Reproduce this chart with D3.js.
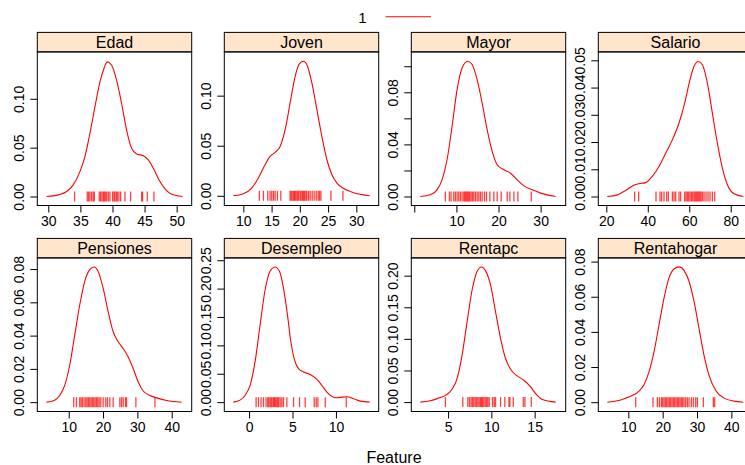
<!DOCTYPE html>
<html><head><meta charset="utf-8">
<script src="https://cdn.jsdelivr.net/npm/d3@7"></script>
<style>body{margin:0;background:#fff}svg{display:block}text{font-family:"Liberation Sans",Arial,sans-serif;fill:#000}</style>
</head><body>
<script>
// ---------- data ----------
const features = ["Edad","Joven","Mayor","Salario","Pensiones","Desempleo","Rentapc","Rentahogar"];
const legendLabels = ["1"];
const axisTitle = "Feature";

const edadX = [29.74,31.56,32.86,33.89,34.93,35.71,36.49,37.27,38.05,38.67,39.19,39.87,40.64,41.42,42.2,42.98,43.76,44.8,45.58,46.36,47.39,48.43,49.47,50.92];
const edadY = [0,0.0017,0.0051,0.0119,0.0255,0.0408,0.0646,0.0918,0.1173,0.131,0.1378,0.1344,0.119,0.0952,0.068,0.0493,0.0435,0.0418,0.0374,0.0289,0.0153,0.0061,0.0017,0];
const edadRug = [34.1,36.07,36.28,36.49,36.75,37.0,37.17,37.94,38.15,38.36,38.57,38.72,38.88,39.09,39.35,39.6,40.02,40.23,40.38,40.59,40.75,41.0,41.27,41.94,42.82,44.54,44.69,45.42,46.46];

const jovenX = [8.22,10.0,11.48,12.66,13.55,14.73,15.62,16.51,17.4,18.28,19.17,19.94,20.65,21.36,22.13,23.02,23.9,24.79,25.68,26.57,27.75,28.93,30.41,32.37];
const jovenY = [0,0.002,0.0077,0.0177,0.0277,0.0393,0.0433,0.0493,0.066,0.0927,0.1193,0.132,0.1343,0.1293,0.1127,0.086,0.0593,0.036,0.021,0.0127,0.0073,0.0043,0.0017,0];
const jovenRug = [12.84,13.55,14.32,14.73,15.03,15.33,15.62,16.04,16.63,18.28,18.46,18.64,18.88,19.05,19.23,19.47,19.64,19.82,20.06,20.24,20.47,20.65,20.83,21.07,21.24,21.54,21.83,22.19,22.54,22.9,23.25,23.49,23.73,25.5,27.63];

const mayorX = [1.43,3.81,5.4,6.59,7.78,8.97,10.16,11.35,12.7,13.73,14.92,16.11,17.3,18.49,19.68,21.27,22.86,24.44,26.03,28.02,30.0,33.57];
const mayorY = [0,0.0013,0.0051,0.0128,0.0282,0.0538,0.082,0.0987,0.1038,0.1013,0.0897,0.0718,0.0513,0.0346,0.0244,0.0205,0.0179,0.0128,0.0082,0.0051,0.0026,0];
const mayorRug = [7.38,8.33,8.73,9.37,9.76,10.16,10.56,10.95,11.35,11.75,11.98,12.22,12.46,12.7,12.94,13.17,13.49,13.81,14.13,14.52,14.92,15.32,15.71,16.11,16.67,17.14,17.94,18.89,19.68,20.63,22.06,22.7,23.65,24.6,27.78];

const salarioX = [20.48,25.3,29.33,32.55,35.76,38.98,42.2,45.41,48.63,51.85,55.06,57.8,60.37,62.3,64.39,66.32,68.74,71.15,73.56,75.98,78.39,81.6,86.11];
const salarioY = [0,0.0006,0.0022,0.0039,0.0047,0.0051,0.0074,0.011,0.0159,0.0208,0.027,0.0343,0.0429,0.0478,0.0496,0.0484,0.0417,0.0306,0.0196,0.0104,0.0043,0.001,0];
const salarioRug = [33.67,35.6,43.97,45.9,46.7,47.83,49.11,49.92,51.85,52.65,53.46,55.07,55.87,57.8,58.44,59.09,59.73,60.37,61.02,61.66,62.3,62.79,63.27,63.75,64.23,64.72,65.2,65.68,66.32,67.13,68.1,69.06,70.02,71.15,72.28];

const pensionesX = [3.48,5.91,7.37,8.83,10.29,11.75,13.21,14.67,16.13,17.4,18.57,20.03,21.49,22.95,24.41,25.87,27.33,28.79,30.25,31.71,33.66,35.61,38.53,42.91];
const pensionesY = [0,0.0012,0.004,0.0101,0.0222,0.0403,0.0584,0.0726,0.0796,0.0812,0.0786,0.0685,0.0544,0.0423,0.0363,0.0322,0.0272,0.0202,0.0121,0.0067,0.004,0.0026,0.001,0];
const pensionesRug = [11.46,12.24,13.21,13.6,13.99,14.48,14.97,15.36,15.74,16.13,16.52,16.91,17.3,17.69,18.08,18.47,18.86,19.35,20.03,20.81,21.3,21.98,22.95,24.9,25.38,25.87,26.55,26.85,29.57,35.12];

const desempleoX = [-1.81,-1.04,-0.46,0.12,0.69,1.27,1.85,2.42,3.0,3.5,3.96,4.42,4.81,5.19,5.69,6.27,7.04,7.81,8.38,8.96,9.54,10.12,10.69,11.27,12.04,12.81,13.88];
const desempleoY = [0,0.0035,0.0118,0.0296,0.0709,0.1359,0.198,0.2305,0.2382,0.2305,0.2009,0.1537,0.1064,0.0768,0.0591,0.0532,0.0485,0.0402,0.0296,0.0177,0.01,0.0077,0.0089,0.0095,0.0059,0.0018,0];
const desempleoRug = [0.81,1.08,1.38,1.65,1.96,2.15,2.27,2.42,2.54,2.65,2.81,2.92,3.04,3.19,3.31,3.42,3.58,3.77,3.96,4.35,5.12,5.81,6.46,7.5,7.73,7.92,8.77,11.19];

const rentapcX = [1.8,2.95,3.92,4.69,5.46,6.04,6.62,7.2,7.78,8.36,8.86,9.32,9.9,10.48,11.06,11.64,12.22,12.99,13.76,14.54,15.12,15.89,17.43];
const rentapcY = [0,0.0021,0.0064,0.0106,0.0202,0.0371,0.0743,0.1273,0.1777,0.2069,0.2138,0.208,0.1857,0.1432,0.1008,0.069,0.052,0.0414,0.0345,0.0239,0.0133,0.0042,0];
const rentapcRug = [4.69,6.7,7.28,7.47,7.66,7.82,7.97,8.13,8.28,8.44,8.59,8.75,8.86,8.98,9.13,9.29,9.44,9.59,9.75,10.14,10.33,10.48,11.06,11.56,12.03,12.14,12.53,13.69,13.88,14.61];

const rentahogarX = [3.88,6.8,9.22,11.17,13.11,14.56,16.02,17.48,18.93,20.39,21.84,23.3,24.76,26.21,27.67,29.13,30.58,32.04,33.5,35.44,37.86,40.78,43.5];
const rentahogarY = [0,0.0008,0.0023,0.0038,0.0063,0.0099,0.0172,0.0286,0.0439,0.0592,0.0707,0.0758,0.077,0.075,0.0688,0.0573,0.042,0.0267,0.0153,0.0067,0.0023,0.0006,0];
const rentahogarRug = [12.14,17.18,18.45,19.03,19.61,20.0,20.39,20.78,21.17,21.55,21.94,22.33,22.72,23.11,23.5,23.88,24.27,24.66,25.05,25.44,25.83,26.21,26.7,27.18,27.67,28.35,28.93,29.61,30.1,31.84,34.76,35.15];

// axis limits per panel
const xLimits = [[28.29,52.34],[6.63,33.96],[-0.71,35.95],[16.14,90.6],[0.85,45.83],[-2.85,14.92],[0.75,18.59],[1.26,46.21]];
const yLimits = [[-0.0092,0.148],[-0.0097,0.1437],[-0.0069,0.111],[-0.0033,0.0531],[-0.0056,0.0867],[-0.0165,0.2541],[-0.0149,0.2281],[-0.0053,0.0821]];

// ticks and tick labels
const xTicks = [[30,35,40,45,50],[10,15,20,25,30],[0,10,20,30],[20,40,60,80],[10,20,30,40],[0,5,10],[5,10,15],[10,20,30,40]];
const xTickLabels = [["30","35","40","45","50"],["10","15","20","25","30"],["","10","20","30"],["20","40","60","80"],["10","20","30","40"],["0","5","10"],["5","10","15"],["10","20","30","40"]];
const yTicks = [[0,0.05,0.10],[0,0.05,0.10],[0,0.02,0.04,0.06,0.08,0.10],[0,0.01,0.02,0.03,0.04,0.05],[0,0.02,0.04,0.06,0.08],[0,0.05,0.10,0.15,0.20,0.25],[0,0.05,0.10,0.15,0.20],[0,0.02,0.04,0.06,0.08]];
const yTickLabels = [["0.00","0.05","0.10"],["0.00","0.05","0.10"],["0.00","","0.04","","0.08",""],["0.00","0.01","0.02","0.03","0.04","0.05"],["0.00","0.02","0.04","0.06","0.08"],["0.00","0.05","0.10","0.15","0.20","0.25"],["0.00","0.05","0.10","0.15","0.20"],["0.00","0.02","0.04","0.06","0.08"]];

const curvesX = [edadX,jovenX,mayorX,salarioX,pensionesX,desempleoX,rentapcX,rentahogarX];
const curvesY = [edadY,jovenY,mayorY,salarioY,pensionesY,desempleoY,rentapcY,rentahogarY];
const rugs = [edadRug,jovenRug,mayorRug,salarioRug,pensionesRug,desempleoRug,rentapcRug,rentahogarRug];

// ---------- layout ----------
const W = 745, H = 465;
const colLeft0 = 37.3, colStep = 187, panelW = 154.4;
const rowTops = [32.4, 238.4], stripH = 19.5, plotH = 153.6;
const red = "#ff0000";
const tickFont = "14px", bigFont = "16px";

const svg = d3.select("body").append("svg").attr("width", W).attr("height", H);

features.forEach((name, i) => {
  const col = i % 4, row = Math.floor(i / 4);
  const left = colLeft0 + col * colStep;
  const top = rowTops[row];
  const pTop = top + stripH, pBot = pTop + plotH;
  const x = d3.scaleLinear().domain(xLimits[i]).range([left, left + panelW]);
  const y = d3.scaleLinear().domain(yLimits[i]).range([pBot, pTop]);
  const g = svg.append("g");

  // strip
  g.append("rect").attr("x", left).attr("y", top).attr("width", panelW).attr("height", stripH)
    .attr("fill", "#ffe5cc").attr("stroke", "#000").attr("stroke-width", 1);
  g.append("text").attr("x", left + panelW / 2).attr("y", top + stripH / 2 + 0.5)
    .attr("text-anchor", "middle").attr("dominant-baseline", "central")
    .style("font-size", bigFont).text(name);

  // clip for plotting region
  const cid = "clip" + i;
  svg.append("clipPath").attr("id", cid).append("rect")
    .attr("x", left).attr("y", pTop).attr("width", panelW).attr("height", plotH);

  // density curve
  const pts = curvesX[i].map((v, k) => [v, curvesY[i][k]]);
  g.append("path").datum(pts).attr("clip-path", `url(#${cid})`)
    .attr("fill", "none").attr("stroke", red).attr("stroke-width", 1.1)
    .attr("d", d3.line().x(d => x(d[0])).y(d => y(d[1])).curve(d3.curveMonotoneX));

  // rug marks
  g.append("g").selectAll("line").data(rugs[i]).join("line")
    .attr("x1", d => x(d)).attr("x2", d => x(d))
    .attr("y1", y(0) - 5).attr("y2", y(0) + 5)
    .attr("stroke", red).attr("stroke-opacity", 0.75).attr("stroke-width", 1.3);

  // panel border
  g.append("rect").attr("x", left).attr("y", pTop).attr("width", panelW).attr("height", plotH)
    .attr("fill", "none").attr("stroke", "#000").attr("stroke-width", 1);

  // x axis
  const xa = d3.axisBottom(x).tickValues(xTicks[i]).tickSize(7).tickPadding(4)
    .tickFormat((d, k) => xTickLabels[i][k]);
  const gx = g.append("g").attr("transform", `translate(0,${pBot})`).call(xa);
  gx.select(".domain").remove();
  gx.selectAll("line").attr("stroke", "#000");
  gx.selectAll("text").style("font-size", tickFont).style("font-family", "Liberation Sans, Arial, sans-serif")
    .attr("fill", "#000");

  // y axis
  const ya = d3.axisLeft(y).tickValues(yTicks[i]).tickSize(7).tickPadding(4)
    .tickFormat((d, k) => yTickLabels[i][k]);
  const gy = g.append("g").attr("transform", `translate(${left},0)`).call(ya);
  gy.select(".domain").remove();
  gy.selectAll("line").attr("stroke", "#000");
  gy.selectAll("text").style("font-size", tickFont).style("font-family", "Liberation Sans, Arial, sans-serif")
    .attr("fill", "#000")
    .attr("x", null).attr("dy", null)
    .attr("text-anchor", "middle").attr("dominant-baseline", "central")
    .attr("transform", "translate(-18.5,0) rotate(-90)");
});

// legend
const lg = svg.append("g");
lg.selectAll("text").data(legendLabels).join("text")
  .attr("x", 362.3).attr("y", 17.5).attr("text-anchor", "middle").attr("dominant-baseline", "central")
  .style("font-size", "15px").text(d => d);
lg.append("line").attr("x1", 385.7).attr("x2", 431).attr("y1", 16.7).attr("y2", 16.7)
  .attr("stroke", red).attr("stroke-width", 1.1);

// x axis title
svg.append("text").attr("x", 394).attr("y", 457.5).attr("text-anchor", "middle")
  .attr("dominant-baseline", "central").style("font-size", bigFont).text(axisTitle);
</script>
</body></html>
